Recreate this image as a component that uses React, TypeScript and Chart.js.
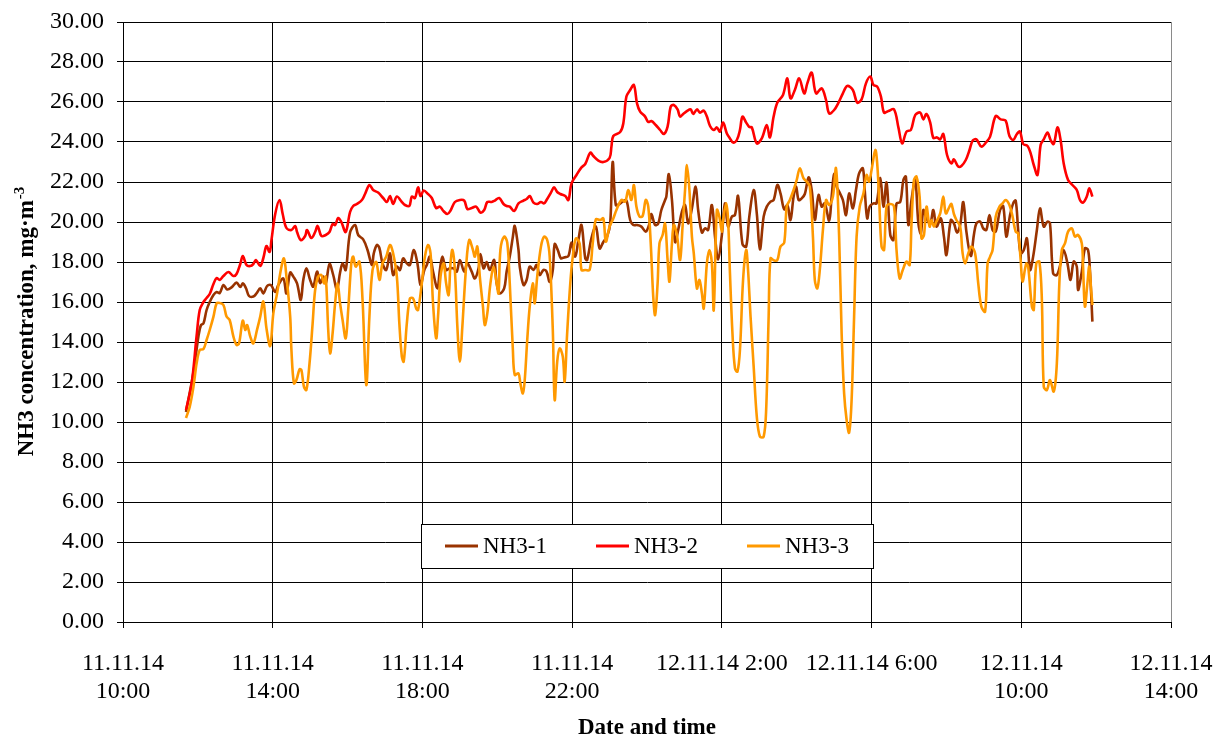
import React, { useEffect, useRef } from 'react';
import { Chart, registerables } from 'chart.js';

Chart.register(...registerables);

// Time in minutes after 11.11.14 10:00, concentration in mg·m-3
const SERIES_LABELS = ['NH3-1', 'NH3-2', 'NH3-3'];
const SERIES_COLORS = ['#993300', '#FF0000', '#FF9900'];

const X_TICK_VALUES = [0, 240, 480, 720, 960, 1200, 1440, 1680];
const X_TICK_LABELS: (string | string[])[] = [
  ['11.11.14', '10:00'],
  ['11.11.14', '14:00'],
  ['11.11.14', '18:00'],
  ['11.11.14', '22:00'],
  '12.11.14 2:00',
  '12.11.14 6:00',
  ['12.11.14', '10:00'],
  ['12.11.14', '14:00'],
];
const Y_MIN = 0;
const Y_MAX = 30;
const Y_STEP = 2;

const NH3_1: [number, number][] = [
  [101, 10.5], [113, 12.5], [121, 14.3], [125, 14.85], [129, 14.93], [134, 15.6], [139, 16.0], [145, 16.35],
  [150, 16.5], [155, 16.45], [161, 16.85], [167, 16.63], [174, 16.73], [182, 16.97], [188, 16.75], [192, 16.93],
  [197, 16.7], [202, 16.3], [209, 16.27], [214, 16.43], [220, 16.68], [225, 16.43], [231, 16.8], [237, 16.85],
  [244, 16.5], [249, 16.85], [257, 17.18], [262, 16.43], [268, 17.47], [273, 17.27], [279, 16.93], [285, 16.1],
  [289, 17.1], [294, 17.68], [300, 17.1], [305, 16.77], [311, 17.52], [316, 16.95], [321, 17.27], [325, 16.93],
  [331, 17.9], [337, 17.35], [343, 16.63], [348, 17.47], [352, 17.93], [357, 17.6], [364, 19.47], [372, 19.85],
  [377, 19.35], [385, 19.13], [392, 18.6], [399, 17.85], [402, 18.43], [407, 18.85], [411, 18.7], [416, 17.93],
  [422, 17.6], [428, 18.43], [433, 17.35], [439, 17.77], [444, 17.6], [449, 18.18], [455, 17.93], [460, 17.85],
  [466, 18.6], [472, 17.93], [477, 16.85], [483, 17.6], [487, 17.85], [492, 18.27], [497, 17.52], [504, 16.68],
  [508, 17.6], [512, 18.27], [518, 17.6], [523, 17.68], [530, 17.68], [535, 17.52], [540, 18.1], [547, 17.52],
  [552, 17.93], [559, 17.52], [564, 17.18], [570, 17.68], [573, 18.4], [578, 17.68], [583, 18.0], [588, 17.6],
  [595, 18.1], [599, 16.93], [604, 16.43], [611, 16.68], [615, 17.52], [620, 18.27], [625, 19.27], [628, 19.8],
  [634, 18.6], [636, 17.77], [642, 16.85], [647, 17.1], [652, 17.77], [658, 17.6], [663, 17.85], [668, 17.35],
  [674, 17.6], [679, 17.52], [684, 17.0], [689, 17.6], [692, 18.9], [697, 18.6], [702, 18.18], [707, 18.23],
  [714, 18.3], [719, 18.97], [725, 18.27], [730, 19.1], [735, 19.85], [741, 18.18], [744, 18.1], [751, 19.2],
  [758, 19.77], [764, 18.68], [770, 19.0], [776, 19.27], [781, 19.93], [785, 23.0], [790, 20.85], [796, 20.9],
  [801, 21.02], [807, 21.07], [813, 20.1], [818, 19.85], [824, 19.85], [831, 19.77], [838, 19.52], [844, 19.93],
  [847, 20.4], [853, 19.85], [858, 19.93], [863, 20.6], [869, 21.1], [871, 21.27], [875, 22.4], [880, 21.1],
  [885, 19.0], [890, 19.6], [896, 20.52], [901, 20.85], [906, 19.93], [912, 20.68], [918, 21.77], [922, 20.6],
  [928, 19.47], [933, 19.68], [938, 19.6], [944, 20.85], [949, 19.27], [954, 18.13], [960, 19.35], [965, 20.93],
  [970, 19.77], [976, 20.27], [981, 20.35], [986, 21.3], [993, 18.9], [999, 18.77], [1004, 20.27], [1011, 21.6],
  [1016, 20.43], [1021, 18.63], [1027, 20.27], [1032, 20.77], [1038, 21.02], [1043, 21.1], [1049, 21.85], [1054, 21.43],
  [1060, 20.63], [1065, 20.85], [1070, 20.1], [1075, 21.27], [1079, 21.77], [1083, 21.1], [1088, 21.18], [1093, 21.4],
  [1099, 22.23], [1104, 21.6], [1109, 20.1], [1115, 21.35], [1120, 20.77], [1125, 20.93], [1132, 20.07], [1136, 21.27],
  [1140, 22.4], [1144, 21.77], [1148, 21.52], [1154, 21.1], [1159, 20.35], [1164, 21.43], [1170, 20.68], [1175, 21.6],
  [1180, 22.43], [1186, 22.68], [1189, 21.6], [1193, 20.18], [1197, 20.77], [1203, 20.93], [1208, 20.93], [1214, 22.2],
  [1219, 20.77], [1224, 21.97], [1230, 19.35], [1235, 19.1], [1240, 20.93], [1246, 21.0], [1251, 22.1], [1255, 22.27],
  [1259, 19.85], [1264, 21.1], [1270, 22.1], [1275, 19.93], [1279, 19.43], [1283, 20.6], [1288, 20.18], [1294, 19.93],
  [1299, 20.6], [1304, 19.77], [1311, 20.18], [1316, 19.27], [1320, 18.35], [1327, 20.1], [1332, 19.93], [1337, 19.47],
  [1342, 19.85], [1347, 21.0], [1352, 19.52], [1359, 18.3], [1364, 19.35], [1368, 19.93], [1374, 20.02], [1379, 19.68],
  [1384, 19.6], [1389, 20.35], [1394, 19.6], [1399, 19.52], [1406, 20.6], [1411, 20.8], [1416, 19.27], [1422, 20.35],
  [1427, 20.93], [1431, 21.07], [1435, 19.6], [1439, 18.43], [1444, 18.6], [1449, 19.18], [1454, 17.6], [1459, 18.27],
  [1465, 19.6], [1470, 20.68], [1476, 19.77], [1482, 20.02], [1486, 19.93], [1491, 17.43], [1497, 17.35], [1503, 17.93],
  [1508, 18.6], [1514, 17.93], [1519, 17.1], [1524, 18.02], [1529, 17.77], [1531, 16.6], [1537, 17.52], [1542, 18.68],
  [1547, 18.6], [1550, 17.6], [1554, 15.02],
];

const NH3_2: [number, number][] = [
  [101, 10.6], [110, 11.9], [118, 14.3], [123, 15.6], [129, 16.0], [134, 16.2], [139, 16.4], [145, 16.9],
  [150, 17.2], [155, 17.1], [161, 17.3], [169, 17.5], [177, 17.3], [182, 17.4], [188, 17.9], [192, 18.3],
  [198, 17.85], [204, 17.8], [209, 17.9], [213, 18.1], [220, 17.8], [225, 18.2], [230, 18.8], [235, 18.5],
  [238, 19.1], [244, 20.4], [251, 21.1], [256, 20.4], [262, 19.7], [270, 19.6], [276, 19.8], [279, 19.5],
  [285, 19.1], [292, 19.3], [295, 19.6], [302, 19.2], [308, 19.5], [312, 19.8], [318, 19.3], [325, 19.35],
  [331, 19.5], [336, 19.9], [340, 19.85], [345, 20.2], [350, 20.0], [357, 19.5], [364, 20.5], [369, 20.8],
  [375, 20.9], [383, 21.1], [388, 21.4], [395, 21.85], [401, 21.6], [409, 21.47], [417, 21.2], [423, 21.0],
  [428, 21.3], [433, 20.9], [439, 21.27], [447, 21.0], [452, 20.85], [459, 20.8], [463, 21.27], [468, 21.2],
  [473, 21.73], [477, 21.3], [482, 21.57], [489, 21.4], [495, 21.2], [502, 20.7], [508, 20.77], [513, 20.57],
  [520, 20.4], [525, 20.57], [532, 21.0], [540, 21.1], [547, 21.07], [552, 20.65], [559, 20.7], [566, 20.77],
  [573, 20.47], [579, 20.6], [584, 21.0], [591, 21.0], [596, 21.07], [603, 21.2], [610, 20.9], [615, 20.8],
  [620, 20.77], [627, 20.55], [634, 20.93], [642, 21.07], [647, 21.15], [652, 21.3], [658, 20.97], [664, 20.9],
  [670, 21.0], [675, 20.93], [679, 21.1], [686, 21.47], [691, 21.73], [696, 21.5], [701, 21.4], [709, 21.3],
  [714, 21.1], [719, 21.93], [727, 22.35], [735, 22.73], [741, 22.9], [749, 23.47], [754, 23.3], [762, 23.07],
  [770, 23.0], [780, 23.2], [783, 23.77], [786, 24.3], [797, 24.5], [802, 24.93], [807, 26.27], [813, 26.6],
  [819, 26.85], [824, 25.93], [829, 25.52], [837, 25.27], [842, 25.0], [847, 25.05], [854, 24.85], [861, 24.6],
  [867, 24.4], [873, 24.77], [878, 25.77], [883, 25.85], [889, 25.63], [893, 25.27], [898, 25.4], [905, 25.57],
  [910, 25.63], [914, 25.4], [920, 25.63], [925, 25.47], [931, 25.57], [936, 25.27], [941, 24.8], [947, 24.6],
  [952, 24.73], [957, 24.52], [962, 24.97], [968, 24.43], [973, 24.18], [978, 23.97], [984, 24.1], [989, 24.6],
  [993, 25.27], [999, 24.97], [1004, 24.75], [1008, 24.73], [1016, 23.93], [1024, 24.18], [1032, 24.85], [1037, 24.23],
  [1043, 25.27], [1049, 25.97], [1058, 26.35], [1065, 27.18], [1070, 26.18], [1077, 26.6], [1084, 27.18], [1092, 26.43],
  [1097, 26.93], [1104, 27.47], [1111, 26.43], [1120, 26.68], [1127, 26.1], [1132, 25.43], [1140, 25.6], [1147, 25.97],
  [1154, 26.43], [1161, 26.8], [1170, 26.6], [1177, 25.97], [1184, 26.13], [1191, 26.93], [1198, 27.27], [1203, 26.85],
  [1209, 26.77], [1215, 26.27], [1220, 25.47], [1227, 25.55], [1236, 25.63], [1243, 24.73], [1249, 23.93], [1256, 24.52],
  [1263, 24.6], [1270, 25.35], [1278, 25.47], [1283, 25.13], [1288, 25.4], [1294, 24.97], [1299, 24.2], [1305, 24.23],
  [1310, 24.13], [1315, 24.4], [1321, 23.35], [1328, 22.93], [1332, 23.13], [1339, 22.77], [1344, 22.8], [1351, 23.1],
  [1357, 23.6], [1362, 24.07], [1368, 24.13], [1376, 23.77], [1384, 24.0], [1390, 24.27], [1399, 25.3], [1407, 25.13],
  [1415, 25.07], [1421, 24.3], [1427, 24.1], [1433, 24.4], [1438, 24.52], [1443, 23.9], [1450, 23.8], [1455, 23.43],
  [1460, 22.85], [1466, 22.35], [1471, 23.85], [1476, 24.13], [1482, 24.47], [1487, 24.1], [1492, 23.9], [1498, 24.73],
  [1503, 24.1], [1508, 22.93], [1515, 22.1], [1522, 21.85], [1529, 21.6], [1534, 21.1], [1539, 20.97], [1545, 21.27],
  [1549, 21.68], [1554, 21.27],
];

const NH3_3: [number, number][] = [
  [101, 10.2], [107, 10.77], [113, 11.77], [118, 12.93], [123, 13.6], [129, 13.65], [134, 14.1], [139, 14.6],
  [145, 15.27], [150, 15.93], [155, 15.95], [161, 15.85], [166, 15.27], [171, 15.1], [177, 14.27], [182, 13.85],
  [186, 13.93], [192, 15.07], [196, 14.6], [199, 14.85], [204, 14.27], [209, 13.93], [215, 14.63], [220, 15.27],
  [225, 16.02], [230, 14.68], [236, 13.8], [241, 15.43], [247, 16.43], [253, 17.6], [258, 18.18], [262, 17.27],
  [268, 15.27], [270, 13.6], [274, 11.93], [278, 12.1], [283, 12.63], [286, 12.6], [290, 11.77], [294, 11.6],
  [299, 12.93], [304, 14.93], [308, 16.6], [313, 17.27], [318, 17.35], [322, 16.93], [325, 17.27], [329, 14.6],
  [332, 13.43], [336, 14.43], [340, 15.93], [344, 16.93], [348, 15.93], [352, 15.1], [357, 14.18], [361, 15.6],
  [366, 17.93], [369, 18.27], [373, 17.77], [379, 18.02], [384, 16.1], [390, 11.85], [395, 15.27], [400, 17.6],
  [406, 18.0], [411, 17.1], [416, 17.93], [422, 18.27], [428, 18.85], [433, 18.43], [439, 17.27], [443, 14.93],
  [447, 13.27], [450, 13.02], [455, 14.93], [460, 16.18], [465, 16.18], [470, 15.68], [473, 15.6], [479, 16.93],
  [484, 18.27], [489, 18.85], [493, 18.43], [497, 15.93], [502, 14.18], [505, 15.27], [509, 17.27], [514, 17.93],
  [518, 16.93], [522, 16.35], [525, 17.93], [528, 18.6], [532, 17.6], [536, 14.77], [540, 13.02], [544, 14.77],
  [550, 17.77], [555, 19.1], [561, 18.6], [564, 18.27], [568, 18.77], [572, 17.27], [577, 15.77], [580, 14.85],
  [584, 15.43], [589, 16.93], [594, 17.77], [599, 16.93], [602, 16.43], [605, 18.6], [611, 19.27], [616, 18.97],
  [620, 16.93], [625, 13.6], [628, 12.35], [634, 12.43], [637, 11.93], [641, 11.43], [644, 12.1], [648, 14.1],
  [652, 15.77], [657, 16.93], [660, 15.93], [664, 17.27], [670, 18.77], [675, 19.27], [680, 19.1], [684, 18.27],
  [689, 14.6], [692, 11.1], [696, 13.0], [700, 13.68], [705, 13.27], [708, 12.02], [712, 14.43], [717, 16.93],
  [721, 18.27], [726, 19.18], [732, 18.93], [735, 17.6], [741, 17.6], [748, 17.6], [753, 18.93], [758, 20.13],
  [765, 20.1], [770, 20.18], [774, 19.02], [780, 19.77], [786, 20.18], [791, 20.6], [799, 21.1], [805, 21.02],
  [810, 21.6], [815, 21.1], [819, 21.85], [823, 20.77], [828, 20.27], [833, 20.3], [838, 21.1], [842, 20.77],
  [846, 18.93], [850, 16.27], [853, 15.35], [857, 16.93], [860, 18.93], [865, 19.35], [869, 19.93], [873, 18.1],
  [876, 17.02], [880, 18.93], [883, 19.85], [888, 19.35], [893, 18.1], [897, 19.77], [901, 21.6], [904, 22.85],
  [908, 21.6], [912, 19.27], [915, 18.43], [920, 16.68], [924, 17.1], [928, 16.43], [931, 15.68], [936, 17.93],
  [940, 18.6], [944, 17.93], [947, 15.6], [952, 20.6], [956, 20.27], [960, 19.52], [962, 20.1], [967, 20.93],
  [970, 20.1], [973, 17.43], [977, 14.43], [981, 12.68], [985, 12.52], [989, 13.6], [994, 17.1], [999, 18.6],
  [1002, 17.6], [1006, 15.27], [1011, 12.77], [1016, 10.27], [1021, 9.27], [1027, 9.27], [1031, 10.6], [1035, 15.27],
  [1038, 18.18], [1044, 18.07], [1049, 18.1], [1054, 18.77], [1060, 18.97], [1064, 20.77], [1069, 21.1], [1075, 21.6],
  [1080, 22.1], [1085, 22.68], [1091, 22.18], [1096, 22.02], [1101, 21.77], [1106, 19.27], [1109, 17.1], [1113, 16.68],
  [1117, 17.6], [1122, 19.6], [1127, 21.1], [1132, 20.85], [1138, 21.27], [1143, 22.68], [1148, 19.27], [1152, 14.43],
  [1156, 11.43], [1160, 10.1], [1164, 9.47], [1168, 11.1], [1172, 15.27], [1176, 19.27], [1181, 20.77], [1187, 21.43],
  [1192, 22.35], [1196, 22.02], [1200, 22.6], [1206, 23.6], [1209, 22.93], [1212, 21.27], [1216, 18.77], [1220, 18.6],
  [1224, 20.77], [1230, 20.9], [1236, 20.77], [1240, 18.6], [1245, 17.18], [1250, 17.6], [1256, 18.02], [1261, 17.85],
  [1264, 19.93], [1268, 22.1], [1272, 22.27], [1277, 21.27], [1280, 19.18], [1284, 19.35], [1288, 20.77], [1293, 19.77],
  [1296, 20.1], [1300, 19.77], [1304, 20.02], [1310, 20.43], [1315, 21.27], [1319, 20.43], [1325, 20.77], [1328, 20.9],
  [1332, 20.4], [1336, 20.1], [1342, 19.77], [1346, 18.43], [1350, 17.93], [1355, 18.43], [1360, 18.77], [1366, 18.43],
  [1371, 16.93], [1376, 15.77], [1382, 15.52], [1386, 17.93], [1390, 18.27], [1394, 18.6], [1399, 20.27], [1405, 20.77],
  [1410, 20.93], [1415, 21.1], [1421, 20.85], [1426, 20.27], [1431, 19.52], [1435, 19.43], [1439, 18.1], [1442, 17.02],
  [1448, 17.93], [1451, 17.77], [1457, 15.77], [1460, 15.6], [1464, 17.93], [1469, 18.02], [1473, 16.1], [1476, 11.77],
  [1481, 11.6], [1486, 12.1], [1492, 11.52], [1497, 12.93], [1501, 16.93], [1505, 18.6], [1510, 18.93], [1515, 19.52],
  [1521, 19.68], [1526, 19.27], [1531, 19.35], [1537, 18.93], [1539, 17.77], [1542, 15.77], [1546, 16.93], [1549, 17.77],
  [1552, 16.6], [1554, 15.85],
];

const X_TITLE = 'Date and time';
const Y_TITLE_MAIN = 'NH3 concentration, mg·m';
const Y_TITLE_SUP = '-3';

const SERIF = "'Liberation Serif', 'Times New Roman', serif";

const toPoints = (rows: [number, number][]) => rows.map(([x, y]) => ({ x, y }));

const legendPlugin = {
  id: 'boxLegend',
  afterDraw(chart: any) {
    const { ctx, chartArea } = chart;
    const boxW = 452;
    const boxH = 44;
    const cx = (chartArea.left + chartArea.right) / 2;
    const bx = Math.round(cx - boxW / 2);
    const by = Math.round(chartArea.bottom - 54 - boxH);
    ctx.save();
    ctx.fillStyle = '#ffffff';
    ctx.fillRect(bx, by, boxW, boxH);
    ctx.strokeStyle = '#000000';
    ctx.lineWidth = 1;
    ctx.strokeRect(bx + 0.5, by + 0.5, boxW, boxH);
    ctx.font = `23px ${SERIF}`;
    ctx.textBaseline = 'middle';
    ctx.textAlign = 'left';
    const midY = by + boxH / 2;
    chart.data.datasets.forEach((ds: any, i: number) => {
      const sx = bx + 24 + i * 151;
      ctx.strokeStyle = ds.borderColor;
      ctx.lineWidth = 3;
      ctx.beginPath();
      ctx.moveTo(sx, midY);
      ctx.lineTo(sx + 33, midY);
      ctx.stroke();
      ctx.fillStyle = '#000000';
      ctx.fillText(ds.label, sx + 38, midY + 1);
    });
    ctx.restore();
  },
};

const titlesPlugin = {
  id: 'axisTitles',
  afterDraw(chart: any) {
    const { ctx, chartArea } = chart;
    ctx.save();
    ctx.fillStyle = '#000000';
    // x title
    ctx.font = `bold 23px ${SERIF}`;
    ctx.textAlign = 'center';
    ctx.textBaseline = 'middle';
    ctx.fillText(X_TITLE, (chartArea.left + chartArea.right) / 2, 728);
    // y title, rotated, with superscript
    const cy = (chartArea.top + chartArea.bottom) / 2;
    ctx.font = `bold 23px ${SERIF}`;
    const wMain = ctx.measureText(Y_TITLE_MAIN).width;
    ctx.font = `bold 15px ${SERIF}`;
    const wSup = ctx.measureText(Y_TITLE_SUP).width;
    const total = wMain + wSup;
    ctx.translate(33, cy);
    ctx.rotate(-Math.PI / 2);
    ctx.textAlign = 'left';
    ctx.textBaseline = 'alphabetic';
    ctx.font = `bold 23px ${SERIF}`;
    ctx.fillText(Y_TITLE_MAIN, -total / 2, 0);
    ctx.font = `bold 15px ${SERIF}`;
    ctx.fillText(Y_TITLE_SUP, -total / 2 + wMain + 1, -9);
    ctx.restore();
  },
};

export default function App() {
  const canvasRef = useRef<HTMLCanvasElement | null>(null);

  useEffect(() => {
    const canvas = canvasRef.current;
    if (!canvas) return;
    const series = [NH3_1, NH3_2, NH3_3];
    const chart = new Chart(canvas, {
      type: 'line',
      data: {
        datasets: series.map((rows, i) => ({
          label: SERIES_LABELS[i],
          data: toPoints(rows),
          borderColor: SERIES_COLORS[i],
          backgroundColor: SERIES_COLORS[i],
          borderWidth: 2.6,
          pointRadius: 0,
          tension: 0.35,
          fill: false,
          order: 2 - i,
        })),
      },
      options: {
        responsive: false,
        animation: false,
        devicePixelRatio: 1,
        layout: { padding: { left: 0, right: 44, top: 22, bottom: 0 } },
        plugins: {
          legend: { display: false },
          tooltip: { enabled: false },
          title: { display: false },
        },
        scales: {
          x: {
            type: 'linear',
            min: X_TICK_VALUES[0],
            max: X_TICK_VALUES[X_TICK_VALUES.length - 1],
            ticks: {
              stepSize: 240,
              autoSkip: false,
              maxRotation: 0,
              minRotation: 0,
              color: '#000000',
              padding: 21,
              font: { family: SERIF, size: 24 },
              callback: (value: any) => {
                const idx = X_TICK_VALUES.indexOf(Number(value));
                return idx >= 0 ? X_TICK_LABELS[idx] : '';
              },
            },
            grid: {
              color: (c: any) =>
                c.tick && c.tick.value === X_TICK_VALUES[X_TICK_VALUES.length - 1] ? '#8a8a8a' : '#000000',
              tickColor: '#000000',
              lineWidth: 1,
              tickLength: 6,
            },
            border: { color: '#000000', width: 1 },
            afterFit: (s: any) => {
              s.height = 115;
              s.paddingLeft = 0;
              s.paddingRight = 0;
            },
          },
          y: {
            type: 'linear',
            min: Y_MIN,
            max: Y_MAX,
            ticks: {
              stepSize: Y_STEP,
              color: '#000000',
              padding: 13,
              font: { family: SERIF, size: 24 },
              callback: (value: any) => Number(value).toFixed(2),
            },
            grid: {
              color: '#000000',
              tickColor: '#000000',
              lineWidth: 1,
              tickLength: 6,
            },
            border: { color: '#000000', width: 1 },
            afterFit: (s: any) => {
              s.width = 123;
              s.paddingTop = 0;
              s.paddingBottom = 0;
            },
          },
        },
      },
      plugins: [legendPlugin, titlesPlugin],
    } as any);
    return () => {
      chart.destroy();
    };
  }, []);

  return (
    <div
      style={{
        position: 'fixed',
        left: 0,
        top: 0,
        width: 1215,
        height: 737,
        background: '#ffffff',
      }}
    >
      <canvas ref={canvasRef} width={1215} height={737} style={{ display: 'block' }} />
    </div>
  );
}
